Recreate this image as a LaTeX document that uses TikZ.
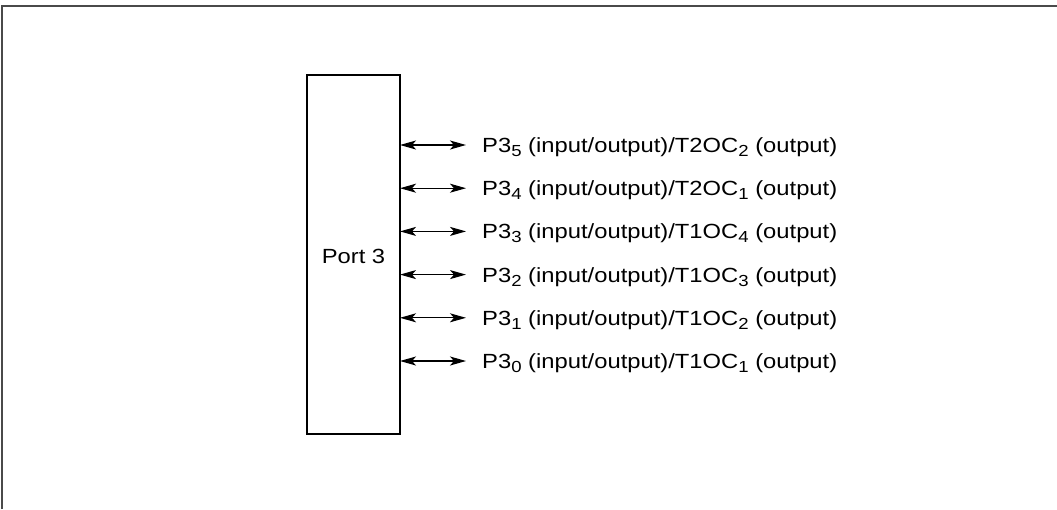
\documentclass[tikz,border=0pt]{standalone}
\usepackage{fontspec}
\setmainfont[FakeStretch=1.16]{Liberation Sans}
\usepackage{tikz}
\usetikzlibrary{arrows.meta, positioning}
\definecolor{pframe}{HTML}{4A4A4A}
\newcommand{\pinsub}[1]{\raisebox{-4pt}{\fontsize{16}{16}\selectfont #1}}

\begin{document}
\begin{tikzpicture}[x=1pt, y=-1pt,
  portlbl/.style={font=\fontsize{20.5}{22}\selectfont, anchor=west, inner sep=0pt,
    text height=15pt, text depth=0pt},
  portarrow/.style={{Stealth[length=16pt, width=9pt, inset=4pt]}-{Stealth[length=16pt, width=9pt, inset=4pt]}, line width=1.2pt}]
\useasboundingbox (0,0) rectangle (1057,509);
\draw[pframe, line width=1.4pt] (2,509) -- (2,6) -- (1057,6);
\draw[line width=1.3pt] (307,75) rectangle (400,434);
\node[font=\fontsize{20.5}{22}\selectfont, inner sep=0pt] (port) at (353.5,256) {Port 3};
\coordinate (box) at (400,254);
\foreach \i/\t/\s in {5/T2OC/2, 4/T2OC/1, 3/T1OC/4, 2/T1OC/3, 1/T1OC/2, 0/T1OC/1} {
  \node[portlbl] (p\i) at (482,{145+(5-\i)*43.2})
    {P3\pinsub{\i} (input/output)/\t\pinsub{\s} (output)};
  \draw[portarrow] (p\i.west -| box) -- ([xshift=-16pt]p\i.west);
}
\end{tikzpicture}
\end{document}
